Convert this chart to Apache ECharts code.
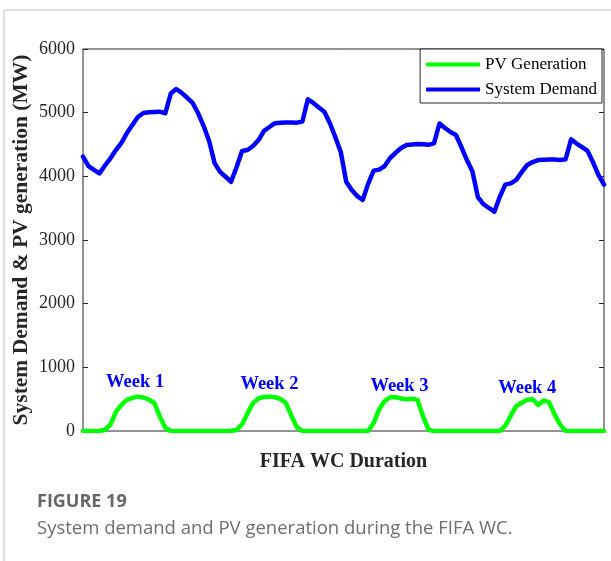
<!DOCTYPE html>
<html>
<head>
<meta charset="utf-8">
<script src="https://cdn.jsdelivr.net/npm/echarts@6/dist/echarts.min.js"></script>
<style>
  html, body { margin: 0; padding: 0; background: #fff; }
  #chart { width: 611px; height: 561px; }
</style>
</head>
<body>
<div id="chart"></div>
<script>
// hourly system demand (MW), one representative day per week
const demandWeek1 = [4308, 4162, 4103, 4047, 4170, 4283, 4413, 4524, 4680, 4806, 4932, 4995, 5005, 5010, 5015, 4990, 5300, 5372, 5310, 5234, 5152, 4990, 4790, 4555]
const demandWeek2 = [4205, 4070, 3994, 3915, 4143, 4398, 4413, 4476, 4570, 4715, 4775, 4835, 4843, 4845, 4845, 4843, 4860, 5210, 5152, 5080, 5015, 4838, 4618, 4382]
const demandWeek3 = [3915, 3786, 3690, 3628, 3886, 4090, 4105, 4162, 4288, 4370, 4445, 4492, 4500, 4508, 4505, 4495, 4518, 4830, 4760, 4696, 4650, 4460, 4256, 4080]
const demandWeek4 = [3675, 3565, 3503, 3445, 3680, 3870, 3890, 3945, 4068, 4178, 4225, 4256, 4262, 4265, 4265, 4258, 4268, 4580, 4515, 4460, 4400, 4220, 4020, 3870]

// hourly PV generation (MW)
const pvWeek1 = [0, 0, 0, 0, 20, 100, 300, 410, 490, 520, 540, 525, 495, 440, 230, 50, 0, 0, 0, 0, 0, 0, 0, 0]
const pvWeek2 = [0, 0, 0, 0, 20, 100, 280, 440, 510, 535, 540, 530, 505, 440, 240, 60, 0, 0, 0, 0, 0, 0, 0, 0]
const pvWeek3 = [0, 0, 0, 0, 5, 125, 340, 470, 530, 529, 510, 500, 508, 488, 230, 20, 0, 0, 0, 0, 0, 0, 0, 0]
const pvWeek4 = [0, 0, 0, 0, 0, 80, 240, 390, 444, 490, 498, 408, 480, 450, 260, 100, 0, 0, 0, 0, 0, 0, 0, 0]

const weekNames = ['Week 1', 'Week 2', 'Week 3', 'Week 4']
// label anchors in data units [hour index, MW]
const weekLabelAt = [[9.5, 770], [34, 738], [57.7, 707], [81, 675]]

const yTicks = [0, 1000, 2000, 3000, 4000, 5000, 6000]

const demand = [...demandWeek1, ...demandWeek2, ...demandWeek3, ...demandWeek4]
const pv = [...pvWeek1, ...pvWeek2, ...pvWeek3, ...pvWeek4]

const serif = 'Liberation Serif'
const axisColor = '#262626'

const chart = echarts.init(document.getElementById('chart'))

const yAxisBase = {
  type: 'value',
  min: yTicks[0],
  max: yTicks[yTicks.length - 1],
  interval: 1000,
  splitLine: { show: false },
  axisLine: { show: false },
  axisTick: { show: true, inside: true, length: 5, lineStyle: { color: axisColor } }
}

chart.setOption({
  backgroundColor: '#fff',
  animation: false,
  grid: {
    left: 83, right: 7, top: 49, bottom: 130,
    show: true, borderColor: axisColor, borderWidth: 1, backgroundColor: 'transparent'
  },
  legend: {
    orient: 'vertical',
    right: 9,
    top: 49,
    align: 'left',
    icon: 'rect',
    itemWidth: 54,
    itemHeight: 4,
    itemGap: 8,
    padding: [7, 5, 5, 6],
    backgroundColor: '#fff',
    borderColor: axisColor,
    borderWidth: 1,
    borderRadius: 0,
    textStyle: { fontFamily: serif, fontSize: 17, color: '#000' },
    data: ['PV Generation', 'System Demand']
  },
  xAxis: {
    type: 'value',
    min: 0,
    max: demand.length - 1,
    name: 'FIFA WC Duration',
    nameLocation: 'middle',
    nameGap: 21,
    nameTextStyle: { fontFamily: serif, fontSize: 20, fontWeight: 'bold', color: axisColor },
    axisLine: { show: false },
    axisTick: { show: false },
    axisLabel: { show: false },
    splitLine: { show: false }
  },
  yAxis: [
    {
      ...yAxisBase,
      position: 'left',
      name: 'System Demand & PV generation (MW)',
      nameLocation: 'middle',
      nameGap: 51,
      nameMoveOverlap: false,
      nameTextStyle: { fontFamily: serif, fontSize: 21.5, fontWeight: 'bold', color: axisColor },
      axisLabel: { fontFamily: serif, fontSize: 18, color: axisColor, margin: 8, formatter: v => String(v) }
    },
    {
      ...yAxisBase,
      position: 'right',
      axisLabel: { show: false }
    }
  ],
  series: [
    {
      name: 'PV Generation',
      type: 'line',
      data: pv.map((v, i) => [i, v]),
      symbol: 'none',
      color: '#00ff00',
      lineStyle: { width: 4.5, color: '#00ff00', cap: 'round', join: 'round' },
      z: 3,
      markPoint: {
        symbol: 'circle',
        symbolSize: 0,
        itemStyle: { color: 'transparent' },
        label: {
          show: true,
          position: 'inside',
          formatter: '{b}',
          fontFamily: serif,
          fontSize: 18.5,
          fontWeight: 'bold',
          color: '#0000ff'
        },
        data: weekNames.map((name, k) => ({ name, coord: weekLabelAt[k] }))
      }
    },
    {
      name: 'System Demand',
      type: 'line',
      data: demand.map((v, i) => [i, v]),
      symbol: 'none',
      color: '#0000ff',
      lineStyle: { width: 4.5, color: '#0000ff', cap: 'round', join: 'round' },
      z: 3
    }
  ],
  graphic: [
    { type: 'line', shape: { x1: 4, y1: 10, x2: 611, y2: 10 }, style: { stroke: '#d4d4d4', lineWidth: 1.5 } },
    { type: 'line', shape: { x1: 4, y1: 10, x2: 4, y2: 561 }, style: { stroke: '#d4d4d4', lineWidth: 1.5 } },
    {
      type: 'text', left: 37, top: 493,
      style: { text: 'FIGURE 19', font: 'bold 18px "Open Sans"', fill: '#666' }
    },
    {
      type: 'text', left: 37, top: 519,
      style: { text: 'System demand and PV generation during the FIFA WC.', font: '18.5px "Open Sans"', fill: '#6e6e6e' }
    }
  ]
})
</script>
</body>
</html>
